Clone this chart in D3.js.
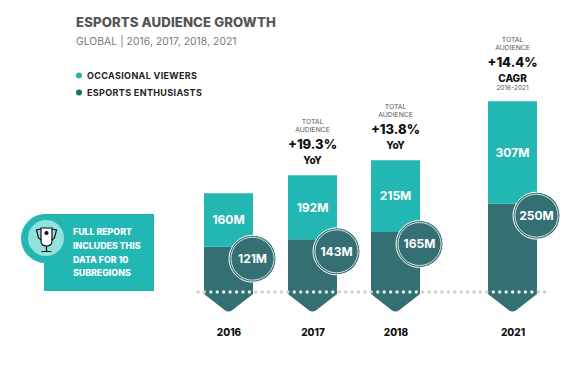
<!DOCTYPE html>
<html>
<head>
<meta charset="utf-8">
<script src="https://cdn.jsdelivr.net/npm/d3@7"></script>
<style>
  html, body { margin: 0; padding: 0; background: #fff; }
  svg { display: block; }
  text { font-family: Inter, "Open Sans", sans-serif; }
</style>
</head>
<body>
<script>
var years = ["2016", "2017", "2018", "2021"];
var enthusiasts = [121, 143, 165, 250];
var occasional = [160, 192, 215, 307];
var seriesNames = ["OCCASIONAL VIEWERS", "ESPORTS ENTHUSIASTS"];
var calloutLines = ["FULL REPORT", "INCLUDES THIS", "DATA FOR 10", "SUBREGIONS"];
var growthYears = ["2017", "2018", "2021"];
var growthValues = ["+19.3%", "+13.8%", "+14.4%"];
var growthKinds = ["YoY", "YoY", "CAGR"];

var teal = "#23b7b3", dark = "#346f73";

var svg = d3.select("body").append("svg")
    .attr("width", 583)
    .attr("height", 370);

// the 2021 bar sits further out, the gap is not to scale
var x = d3.scaleOrdinal().domain(years).range([228.5, 312.5, 395.5, 512.5]);
var y = d3.scaleLinear().domain([0, 600]).range([287, 87]);
var barW = 49;

var rows = years.map(function(d, i) {
  return {year: d, enthusiasts: enthusiasts[i], occasional: occasional[i]};
});
var stacked = d3.stack().keys(["enthusiasts", "occasional"])(rows);

// title
svg.append("text").attr("x", 76).attr("y", 27)
    .attr("font-size", 13.2).attr("font-weight", 800).attr("fill", "#555")
    .attr("letter-spacing", 0.1)
    .text("ESPORTS AUDIENCE GROWTH");
svg.append("text").attr("x", 76).attr("y", 44.5)
    .attr("font-size", 10.3).attr("fill", "#777")
    .attr("letter-spacing", 0.07)
    .text("GLOBAL | 2016, 2017, 2018, 2021");

// legend
var legend = svg.selectAll(".legend").data(seriesNames).enter().append("g")
    .attr("class", "legend")
    .attr("transform", function(d, i) { return "translate(79," + (75.5 + i * 17) + ")"; });
legend.append("circle").attr("r", 3)
    .attr("fill", function(d, i) { return i == 0 ? "#2fb3a3" : "#12706a"; });
legend.append("text").attr("x", 8).attr("y", 3.2)
    .attr("font-size", 9).attr("font-weight", 700).attr("fill", "#222")
    .attr("letter-spacing", 0.35)
    .text(function(d) { return d; });

// callout on the left
var callout = svg.append("g");
callout.append("rect").attr("x", 44).attr("y", 214).attr("width", 110).attr("height", 77).attr("fill", teal);
callout.append("circle").attr("cx", 45.5).attr("cy", 238.5).attr("r", 24.5).attr("fill", teal);
callout.append("circle").attr("cx", 46).attr("cy", 238).attr("r", 18).attr("fill", "#8fe3dc");
callout.selectAll(".line").data(calloutLines).enter().append("text")
    .attr("class", "line")
    .attr("x", 73)
    .attr("y", function(d, i) { return 235 + i * 13.8; })
    .attr("font-size", 8.8).attr("font-weight", 800).attr("fill", "#fff")
    .text(function(d) { return d; });

// trophy
var trophy = callout.append("g").attr("fill", "none").attr("stroke", "#111").attr("stroke-width", 1.2);
trophy.append("path").attr("fill", "#fff").attr("d", "M41 228h11v13q0 5-5.500 5t-5.500-5z");
trophy.append("path").attr("d", "M41 229l-4.500 1 2 8 3 2M52 229l4.500 1-2 8-3 2");
trophy.append("path").attr("d", "M46.500 246v5M41.500 251.500h10");
trophy.append("circle").attr("cx", 46.5).attr("cy", 233).attr("r", 1.5).attr("fill", "#111");

// bars
var layers = svg.selectAll(".layer").data(stacked).enter().append("g").attr("class", "layer");
layers.selectAll("path").data(function(s) {
    return s.map(function(v) { return {key: s.key, year: v.data.year, y0: v[0], y1: v[1]}; });
  }).enter().append("path")
    .attr("fill", function(d) { return d.key == "occasional" ? teal : dark; })
    .attr("d", function(d) {
      var c = x(d.year), l = c - barW / 2, r = c + barW / 2;
      if (d.key == "occasional") {
        return "M" + l + "," + y(d.y1) + "H" + r + "V" + y(d.y0) + "H" + l + "Z";
      }
      // enthusiasts end in an arrow below the zero line
      var base = y(0);
      return "M" + l + "," + y(d.y1) + "H" + r + "V" + (base + 7)
        + "L" + (c + 4) + "," + (base + 23) + "Q" + c + "," + (base + 26) + " " + (c - 4) + "," + (base + 23)
        + "L" + l + "," + (base + 7) + "Z";
    });

// dotted baseline
var dots = d3.range(198, 547, 6.42);
svg.selectAll(".dot").data(dots).enter().append("circle")
    .attr("class", "dot")
    .attr("cx", function(d) { return d; })
    .attr("cy", 292)
    .attr("r", 1.7)
    .attr("fill", function(d) {
      var inside = years.some(function(k) { return Math.abs(d - x(k)) < barW / 2 - 1; });
      return inside ? "#e8eeee" : "#cfcfcf";
    });

// occasional labels
svg.selectAll(".occ").data(stacked[1]).enter().append("text")
    .attr("class", "occ")
    .attr("x", function(d) { return x(d.data.year); })
    .attr("y", function(d) { return (y(d[0]) + y(d[1])) / 2 + 4.3; })
    .attr("text-anchor", "middle")
    .attr("font-size", 12).attr("font-weight", 700).attr("fill", "#fff")
    .text(function(d) { return d.data.occasional + "M"; });

// enthusiast badges
var badges = svg.selectAll(".badge").data(stacked[0]).enter().append("g")
    .attr("class", "badge")
    .attr("transform", function(d) {
      return "translate(" + (x(d.data.year) + 24) + "," + (y(d[1]) + 12) + ")";
    });
badges.append("circle").attr("r", 23.5).attr("fill", dark).attr("stroke", "#fff").attr("stroke-width", 1);
badges.append("circle").attr("r", 21.5).attr("fill", "none").attr("stroke", "#fff").attr("stroke-width", 0.8);
badges.append("text").attr("y", 4.3).attr("text-anchor", "middle")
    .attr("font-size", 12).attr("font-weight", 700).attr("fill", "#fff")
    .text(function(d) { return d.data.enthusiasts + "M"; });

// growth notes above the bars
var notes = svg.selectAll(".note").data(growthYears).enter().append("g")
    .attr("class", "note")
    .attr("text-anchor", "middle")
    .attr("transform", function(d) {
      var i = years.indexOf(d);
      return "translate(" + x(d) + "," + y(enthusiasts[i] + occasional[i]) + ")";
    });
notes.each(function(d, i) {
  var g = d3.select(this), cagr = growthKinds[i] == "CAGR";
  var top = cagr ? -59 : -51;
  g.append("text").attr("y", top).attr("font-size", 6.8).attr("fill", "#555").text("TOTAL");
  g.append("text").attr("y", top + 8).attr("font-size", 6.8).attr("fill", "#555").text("AUDIENCE");
  g.append("text").attr("y", top + 25).attr("font-size", 13).attr("font-weight", 800).attr("fill", "#111").text(growthValues[i]);
  g.append("text").attr("y", top + 39.5).attr("font-size", 10).attr("font-weight", 800).attr("fill", "#111").text(growthKinds[i]);
  if (cagr) {
    g.append("text").attr("y", top + 47.5).attr("font-size", 6.5).attr("fill", "#555").text("2016-2021");
  }
});

// year axis
var axis = svg.append("g")
    .attr("transform", "translate(0,323.5)")
    .call(d3.axisBottom(x).tickSize(0).tickPadding(5));
axis.select(".domain").remove();
axis.selectAll("text")
    .attr("font-size", 10).attr("font-weight", 800).attr("fill", "#111")
    .style("font-family", "Inter, sans-serif");
</script>
</body>
</html>
